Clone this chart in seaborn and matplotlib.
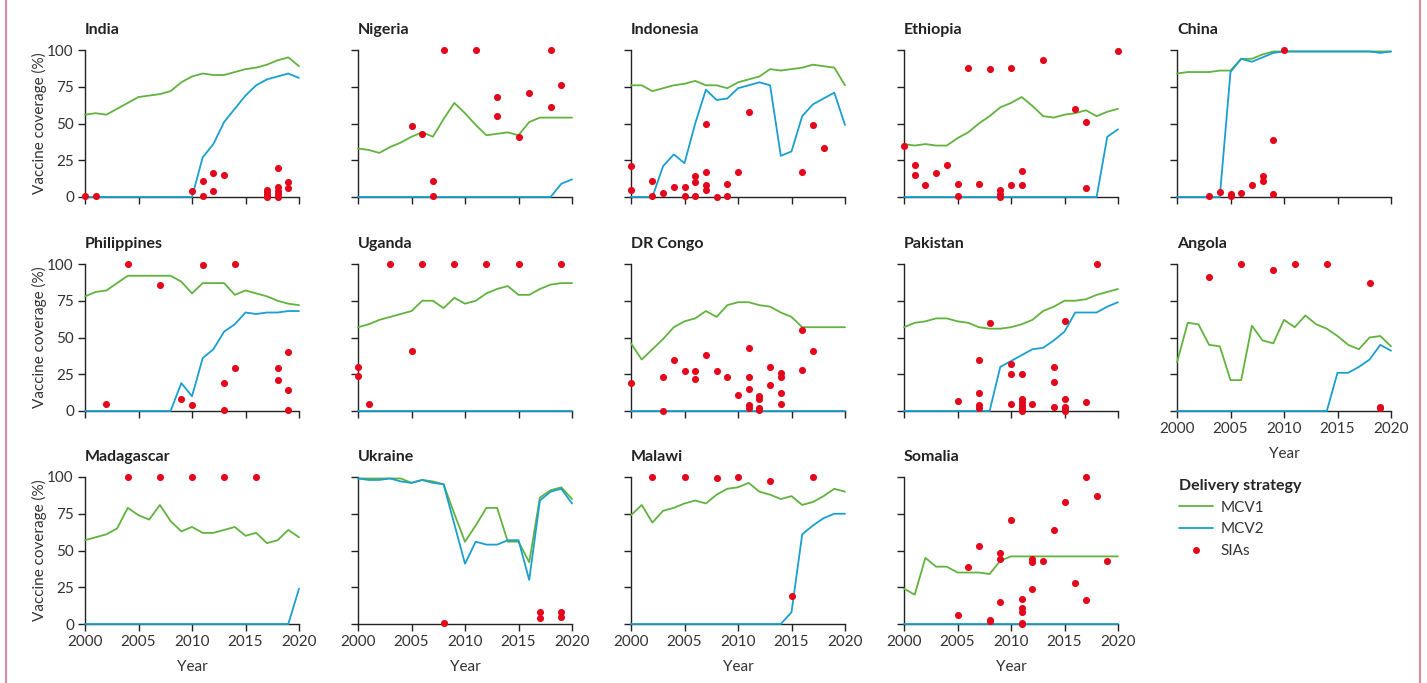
import numpy as np
import pandas as pd
import matplotlib
matplotlib.use("Agg")
import matplotlib.pyplot as plt
from matplotlib.lines import Line2D
import seaborn as sns

YEARS = list(range(2000, 2021))

# ---- India
INDIA_MCV1 = [56, 57, 56, 60, 64, 68, 69, 70, 72, 78, 82, 84, 83, 83, 85, 87, 88, 90, 93, 95, 89]
INDIA_MCV2 = [0] * 11 + [27, 36, 51, 60, 69, 76, 80, 82, 84, 81]
INDIA_SIA_YEAR = [2000, 2001, 2010, 2011, 2011, 2012, 2012, 2013, 2017, 2017, 2017, 2017, 2017,
                  2018, 2018, 2018, 2018, 2018, 2019, 2019]
INDIA_SIA = [1, 1, 4, 11, 1, 16, 4, 15, 5, 4, 2, 1, 0, 20, 7, 4, 2, 0, 10, 6]

# ---- Nigeria
NIGERIA_MCV1 = [33, 32, 30, 34, 37, 41, 44, 41, 53, 64, 57, 49, 42, 43, 44, 42, 51, 54, 54, 54, 54]
NIGERIA_MCV2 = [0] * 19 + [9, 12]
NIGERIA_SIA_YEAR = [2005, 2006, 2007, 2007, 2008, 2011, 2013, 2013, 2015, 2016, 2018, 2018, 2019]
NIGERIA_SIA = [48, 43, 11, 1, 100, 100, 68, 55, 41, 71, 100, 61, 76]

# ---- Indonesia
INDONESIA_MCV1 = [76, 76, 72, 74, 76, 77, 79, 76, 76, 74, 78, 80, 82, 87, 86, 87, 88, 90, 89, 88, 76]
INDONESIA_MCV2 = [0, 0, 0, 21, 29, 23, 50, 73, 66, 67, 74, 76, 78, 76, 28, 31, 55, 63, 67, 71, 49]
INDONESIA_SIA_YEAR = [2000, 2000, 2002, 2002, 2003, 2004, 2005, 2005, 2006, 2006, 2006, 2007, 2007,
                      2007, 2007, 2008, 2009, 2009, 2010, 2011, 2016, 2017, 2018]
INDONESIA_SIA = [21, 5, 11, 1, 3, 7, 7, 1, 14, 10, 1, 50, 17, 8, 5, 0, 9, 1, 17, 58, 17, 49, 33]

# ---- Ethiopia
ETHIOPIA_MCV1 = [36, 35, 36, 35, 35, 40, 44, 50, 55, 61, 64, 68, 62, 55, 54, 56, 57, 59, 55, 58, 60]
ETHIOPIA_MCV2 = [0] * 19 + [41, 46]
ETHIOPIA_SIA_YEAR = [2000, 2001, 2001, 2002, 2003, 2004, 2005, 2005, 2006, 2007, 2008, 2009, 2009,
                     2009, 2010, 2010, 2011, 2011, 2013, 2016, 2017, 2017, 2020]
ETHIOPIA_SIA = [35, 22, 15, 8, 16, 22, 9, 1, 88, 9, 87, 5, 2, 0, 88, 8, 18, 8, 93, 60, 51, 6, 99]

# ---- China
CHINA_MCV1 = [84, 85, 85, 85, 86, 86, 94, 94, 97, 99, 99, 99, 99, 99, 99, 99, 99, 99, 99, 99, 99]
CHINA_MCV2 = [0, 0, 0, 0, 0, 85, 94, 92, 95, 98, 99, 99, 99, 99, 99, 99, 99, 99, 99, 98, 99]
CHINA_SIA_YEAR = [2003, 2004, 2005, 2005, 2006, 2007, 2008, 2008, 2009, 2009, 2010]
CHINA_SIA = [0.5, 3.6, 2, 1, 2.5, 8, 14, 11, 39, 2, 100]

# ---- Philippines
PHILIPPINES_MCV1 = [78, 81, 82, 87, 92, 92, 92, 92, 92, 88, 80, 87, 87, 87, 79, 82, 80, 78, 75, 73, 72]
PHILIPPINES_MCV2 = [0] * 9 + [19, 10, 36, 42, 54, 59, 67, 66, 67, 67, 68, 68]
PHILIPPINES_SIA_YEAR = [2002, 2004, 2007, 2009, 2010, 2011, 2013, 2013, 2014, 2014, 2018, 2018,
                        2019, 2019, 2019]
PHILIPPINES_SIA = [5, 100, 86, 8, 4, 99, 19, 1, 100, 29, 29, 21, 40, 14, 1]

# ---- Uganda
UGANDA_MCV1 = [57, 59, 62, 64, 66, 68, 75, 75, 70, 77, 73, 75, 80, 83, 85, 79, 79, 83, 86, 87, 87]
UGANDA_MCV2 = [0] * 21
UGANDA_SIA_YEAR = [2000, 2000, 2001, 2003, 2005, 2006, 2009, 2012, 2015, 2019]
UGANDA_SIA = [30, 24, 5, 100, 41, 100, 100, 100, 100, 100]

# ---- DR Congo
DRC_MCV1 = [46, 35, 42, 49, 57, 61, 63, 68, 64, 72, 74, 74, 72, 71, 67, 64, 57, 57, 57, 57, 57]
DRC_MCV2 = [0] * 21
DRC_SIA_YEAR = [2000, 2003, 2003, 2004, 2005, 2006, 2006, 2007, 2008, 2009, 2010, 2011, 2011, 2011,
                2011, 2011, 2012, 2012, 2012, 2012, 2013, 2013, 2014, 2014, 2014, 2014, 2016, 2016, 2017]
DRC_SIA = [19, 23, 0, 35, 27, 27, 22, 38, 27, 23, 11, 43, 23, 15, 4, 2, 10, 8, 2, 1, 30, 18,
           26, 23, 12, 5, 55, 28, 41]

# ---- Pakistan
PAKISTAN_MCV1 = [57, 60, 61, 63, 63, 61, 60, 57, 56, 56, 57, 59, 62, 68, 71, 75, 75, 76, 79, 81, 83]
PAKISTAN_MCV2 = [0] * 9 + [30, 34, 38, 42, 43, 48, 54, 67, 67, 67, 71, 74]
PAKISTAN_SIA_YEAR = [2005, 2007, 2007, 2007, 2007, 2008, 2010, 2010, 2010, 2011, 2011, 2011, 2011,
                     2011, 2011, 2012, 2014, 2014, 2014, 2015, 2015, 2015, 2015, 2015, 2017, 2018]
PAKISTAN_SIA = [7, 35, 12, 4, 2, 60, 32, 25, 5, 25, 8, 6, 4, 2, 0, 5, 30, 20, 3, 61, 8, 3, 1.5,
                0, 6, 100]

# ---- Angola
ANGOLA_MCV1 = [33, 60, 59, 45, 44, 21, 21, 58, 48, 46, 62, 57, 65, 59, 56, 51, 45, 42, 50, 51, 44]
ANGOLA_MCV2 = [0] * 15 + [26, 26, 30, 35, 45, 41]
ANGOLA_SIA_YEAR = [2003, 2006, 2009, 2011, 2014, 2018, 2019, 2019]
ANGOLA_SIA = [91, 100, 96, 100, 100, 87, 3, 2]

# ---- Madagascar
MADAGASCAR_MCV1 = [57, 59, 61, 65, 79, 74, 71, 81, 70, 63, 66, 62, 62, 64, 66, 60, 62, 55, 57, 64, 59]
MADAGASCAR_MCV2 = [0] * 20 + [24]
MADAGASCAR_SIA_YEAR = [2004, 2007, 2010, 2013, 2016]
MADAGASCAR_SIA = [100, 100, 100, 100, 100]

# ---- Ukraine
UKRAINE_MCV1 = [99, 99, 99, 99, 99, 96, 98, 97, 95, 75, 56, 67, 79, 79, 56, 56, 42, 86, 91, 93, 85]
UKRAINE_MCV2 = [99, 98, 98, 99, 97, 96, 98, 96, 95, 68, 41, 56, 54, 54, 57, 57, 30, 84, 90, 92, 82]
UKRAINE_SIA_YEAR = [2008, 2017, 2017, 2019, 2019]
UKRAINE_SIA = [1, 8, 4, 8, 5]

# ---- Malawi
MALAWI_MCV1 = [74, 81, 69, 77, 79, 82, 84, 82, 88, 92, 93, 96, 90, 88, 85, 87, 81, 83, 87, 92, 90]
MALAWI_MCV2 = [0] * 15 + [8, 61, 67, 72, 75, 75]
MALAWI_SIA_YEAR = [2002, 2005, 2008, 2010, 2013, 2015, 2017]
MALAWI_SIA = [100, 100, 99, 100, 97, 19, 100]

# ---- Somalia
SOMALIA_MCV1 = [24, 20, 45, 39, 39, 35, 35, 35, 34, 43, 46, 46, 46, 46, 46, 46, 46, 46, 46, 46, 46]
SOMALIA_MCV2 = [0] * 21
SOMALIA_SIA_YEAR = [2005, 2006, 2007, 2008, 2008, 2009, 2009, 2009, 2010, 2011, 2011, 2011, 2011,
                    2011, 2012, 2012, 2012, 2013, 2014, 2015, 2016, 2017, 2017, 2018, 2019]
SOMALIA_SIA = [6, 39, 53, 3, 2, 48, 44, 15, 71, 17, 11, 8, 1, 0, 44, 42, 24, 43, 64, 83, 28,
               100, 16, 87, 43]

COUNTRIES = [
    ("India", INDIA_MCV1, INDIA_MCV2, INDIA_SIA_YEAR, INDIA_SIA),
    ("Nigeria", NIGERIA_MCV1, NIGERIA_MCV2, NIGERIA_SIA_YEAR, NIGERIA_SIA),
    ("Indonesia", INDONESIA_MCV1, INDONESIA_MCV2, INDONESIA_SIA_YEAR, INDONESIA_SIA),
    ("Ethiopia", ETHIOPIA_MCV1, ETHIOPIA_MCV2, ETHIOPIA_SIA_YEAR, ETHIOPIA_SIA),
    ("China", CHINA_MCV1, CHINA_MCV2, CHINA_SIA_YEAR, CHINA_SIA),
    ("Philippines", PHILIPPINES_MCV1, PHILIPPINES_MCV2, PHILIPPINES_SIA_YEAR, PHILIPPINES_SIA),
    ("Uganda", UGANDA_MCV1, UGANDA_MCV2, UGANDA_SIA_YEAR, UGANDA_SIA),
    ("DR Congo", DRC_MCV1, DRC_MCV2, DRC_SIA_YEAR, DRC_SIA),
    ("Pakistan", PAKISTAN_MCV1, PAKISTAN_MCV2, PAKISTAN_SIA_YEAR, PAKISTAN_SIA),
    ("Angola", ANGOLA_MCV1, ANGOLA_MCV2, ANGOLA_SIA_YEAR, ANGOLA_SIA),
    ("Madagascar", MADAGASCAR_MCV1, MADAGASCAR_MCV2, MADAGASCAR_SIA_YEAR, MADAGASCAR_SIA),
    ("Ukraine", UKRAINE_MCV1, UKRAINE_MCV2, UKRAINE_SIA_YEAR, UKRAINE_SIA),
    ("Malawi", MALAWI_MCV1, MALAWI_MCV2, MALAWI_SIA_YEAR, MALAWI_SIA),
    ("Somalia", SOMALIA_MCV1, SOMALIA_MCV2, SOMALIA_SIA_YEAR, SOMALIA_SIA),
]

GREEN = "#62b23f"
BLUE = "#1a9fd0"
RED = "#e2071b"
PALETTE = {"MCV1": GREEN, "MCV2": BLUE}

sns.set_theme(style="ticks")
plt.rcParams["font.family"] = ["Lato", "DejaVu Sans"]
plt.rcParams["axes.edgecolor"] = "#222222"
plt.rcParams["xtick.color"] = "#222222"
plt.rcParams["ytick.color"] = "#222222"
plt.rcParams["xtick.labelcolor"] = "#333333"
plt.rcParams["ytick.labelcolor"] = "#333333"

W, H = 1427, 683
fig = plt.figure(figsize=(W / 100, H / 100), dpi=100)
fig.patch.set_facecolor("white")

COL_LEFT = [85, 358, 631, 904, 1177]
ROW_TOP = [50, 264, 477]
AX_W, AX_H = 214, 147

for idx, (name, mcv1, mcv2, sia_year, sia_val) in enumerate(COUNTRIES):
    row, col = divmod(idx, 5)
    left, top = COL_LEFT[col], ROW_TOP[row]
    ax = fig.add_axes([left / W, 1 - (top + AX_H) / H, AX_W / W, AX_H / H])

    lines = pd.DataFrame({
        "Year": YEARS * 2,
        "Coverage": list(mcv1) + list(mcv2),
        "Strategy": ["MCV1"] * 21 + ["MCV2"] * 21,
    })
    dots = pd.DataFrame({"Year": sia_year, "Coverage": sia_val})

    sns.lineplot(data=lines, x="Year", y="Coverage", hue="Strategy", palette=PALETTE,
                 linewidth=1.3, legend=False, ax=ax, zorder=3)
    sns.scatterplot(data=dots, x="Year", y="Coverage", color=RED, s=26, linewidth=0,
                    legend=False, ax=ax, zorder=4)
    for artist in list(ax.lines) + list(ax.collections):
        artist.set_clip_on(False)

    ax.set_xlim(2000, 2020)
    ax.set_ylim(0, 100)
    ax.set_xticks([2000, 2005, 2010, 2015, 2020])
    ax.set_yticks([0, 25, 50, 75, 100])
    sns.despine(ax=ax)
    for s in ("left", "bottom"):
        ax.spines[s].set_linewidth(1.0)
    ax.tick_params(direction="out", length=5, width=1.0, labelsize=11, pad=3)

    has_xlabels = row == 2 or name == "Angola"
    if has_xlabels:
        ax.set_xlabel("Year", fontsize=11, labelpad=8, color="#333333")
    else:
        ax.set_xlabel("")
        ax.tick_params(axis="x", labelbottom=False)
    if col == 0:
        ax.set_ylabel("Vaccine coverage (%)", fontsize=11, labelpad=0, color="#333333")
    else:
        ax.set_ylabel("")
        ax.tick_params(axis="y", labelleft=False)

    ax.text(0.0, 1.135, name, transform=ax.transAxes, fontsize=11.5, fontweight="bold",
            color="#222222", ha="left", va="center")

# Legend for the three delivery strategies
handles = [
    Line2D([0], [0], color=GREEN, lw=1.3),
    Line2D([0], [0], color=BLUE, lw=1.3),
    Line2D([0], [0], color=RED, lw=0, marker="o", markersize=5, markeredgewidth=0),
]
leg = fig.legend(handles, ["MCV1", "MCV2", "SIAs"], title="Delivery strategy",
                 loc="upper left", bbox_to_anchor=(1173 / W, 1 - 473 / H), frameon=False,
                 fontsize=11, title_fontproperties={"weight": "bold", "size": 11.5},
                 alignment="left", handlelength=2.2, handletextpad=0.5, labelspacing=0.5,
                 borderaxespad=0)
for t in leg.get_texts():
    t.set_color("#333333")

# Thin pink frame at the page edges
for x in (6, 1420):
    fig.add_artist(Line2D([x / W, x / W], [0, 1], color="#d98aa0", lw=1.5,
                          transform=fig.transFigure))

fig.savefig("out.png", dpi=100, facecolor="white")
